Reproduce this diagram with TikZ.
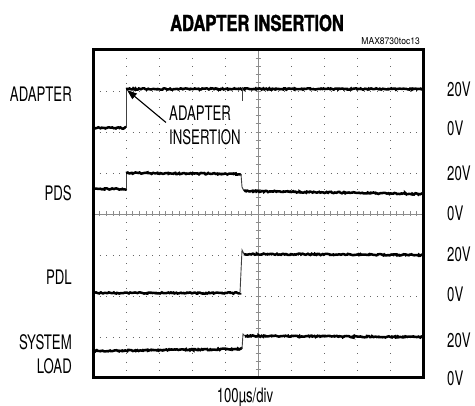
\documentclass[tikz,border=0pt]{standalone}
\usepackage{fontspec}
\setmainfont{TeX Gyre Heros}[FakeStretch=0.66]
\newfontfamily\headfont{TeX Gyre Heros}[FakeStretch=0.75,BoldFeatures={FakeBold=1.6}]
\newfontfamily\tinyfont{TeX Gyre Heros}[FakeStretch=0.9]
\usetikzlibrary{arrows.meta,positioning,decorations.pathmorphing}

\tikzset{
  lbl/.style={font=\fontsize{20}{24}\selectfont, inner sep=0pt},
  volts/.style={lbl, anchor=west},
  trace/.style={line width=2.5pt, decorate, decoration={random steps, segment length=1.2pt, amplitude=0.7pt}},
  stepedge/.style={line width=0.9pt, black!75},
  hgrid/.style={black!60, line width=0.8pt, dash pattern=on 0.8pt off 5.8pt},
  vgrid/.style={black!60, line width=0.8pt, dash pattern=on 0.8pt off 7.4pt},
  axis/.style={black!45, line width=0.6pt},
  frame/.style={line width=3pt}
}

\begin{document}
\begin{tikzpicture}[x=1pt, y=-1pt]
  \useasboundingbox (0,0) rectangle (475,406);
  \pgfmathsetseed{7}

  % grid
  \foreach \k in {1,2,3,5,6,7}
    \draw[hgrid] (93,{50+41*\k}) -- (423,{50+41*\k});
  \foreach \k in {1,2,3,4,6,7,8,9}
    \draw[vgrid] ({93+33*\k},50) -- ({93+33*\k},378);
  \draw[axis] (93,214) -- (423,214);
  \draw[axis] (258,50) -- (258,378);
  \foreach \t in {1,...,49}
    \draw[axis] ({93+6.6*\t},211.5) -- ++(0,5);
  \foreach \t in {1,...,39}
    \draw[axis] (255.5,{50+8.2*\t}) -- ++(5,0);

  % traces
  \begin{scope}
    \clip (93,50) rectangle (423,378);
    % adapter
    \draw[trace] (93,128) -- (126,128);
    \draw[stepedge] (126,128) -- (126,89);
    \draw[trace] (126,89) -- (423,89);
    \draw[stepedge] (242,87) -- (242,101);
    % pds
    \draw[trace] (93,189) -- (126,189);
    \draw[stepedge] (126,189) -- (126,173);
    \draw[trace] (126,173) -- (241,174);
    \draw[stepedge] (241,174) -- (242,187) -- (244,191);
    \draw[trace] (244,191) -- (423,194);
    % pdl
    \draw[trace] (93,293) -- (240,293);
    \draw[stepedge] (240,293) -- (242,250) -- (244,254);
    \draw[trace] (244,254) -- (423,255);
    % system load
    \draw[trace] (93,351) -- (242,349);
    \draw[stepedge] (242,349) -- (243,334) -- (245,336);
    \draw[trace] (245,336) -- (423,337);
  \end{scope}

  \draw[frame] (93,50) rectangle (423,378);

  % labels
  \node[font=\headfont\bfseries\fontsize{22}{22}\selectfont, inner sep=0pt] (title) at (257,23) {ADAPTER INSERTION};
  \node[font=\tinyfont\fontsize{9.5}{10}\selectfont, inner sep=0pt, anchor=east] (tocid) at (420,41) {MAX8730toc13};

  \node[lbl, anchor=east] (adapter) at (72,94) {ADAPTER};
  \node[lbl, anchor=east] (pds) at (72,193) {PDS};
  \node[lbl, anchor=east] (pdl) at (72,277) {PDL};
  \node[lbl, anchor=east, align=right] (sysload) at (72,354) {SYSTEM\\LOAD};

  \node[volts] (v1) at (447,89) {20V};
  \node[volts] (v2) at (447,128) {0V};
  \node[volts] (v3) at (447,173) {20V};
  \node[volts] (v4) at (447,213) {0V};
  \node[volts] (v5) at (447,254) {20V};
  \node[volts] (v6) at (447,294) {0V};
  \node[volts] (v7) at (447,340) {20V};
  \node[volts] (v8) at (447,378) {0V};

  \node[lbl, align=left, anchor=west] (ins) at (169,125) {ADAPTER\\INSERTION};
  \coordinate (step) at (127,90);
  \draw[-{Triangle[length=10pt,width=7pt]}, line width=1.1pt, shorten <=4pt] (ins.west) -- (step);

  \node[lbl] (tdiv) at (245,397) {100µs/div};
\end{tikzpicture}
\end{document}
